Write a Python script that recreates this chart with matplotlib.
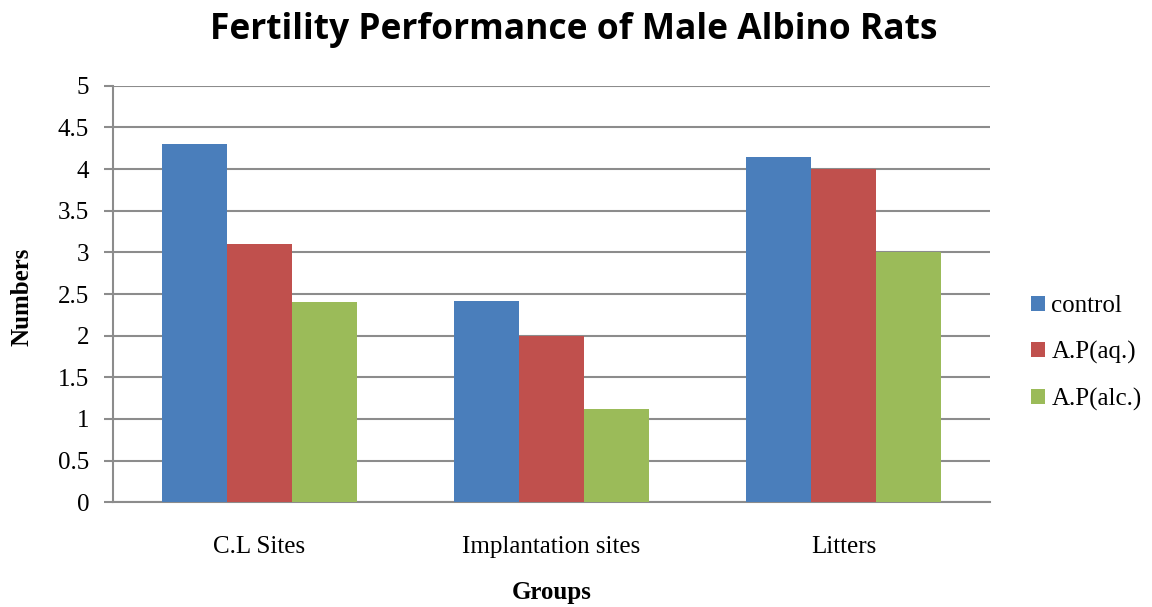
import numpy as np
import matplotlib.pyplot as plt

categories = ['C.L Sites', 'Implantation sites', 'Litters']
series_names = ['control', 'A.P(aq.)', 'A.P(alc.)']
control = [4.3, 2.42, 4.15]
ap_aq = [3.1, 2.0, 4.0]
ap_alc = [2.4, 1.12, 3.0]
colors = ['#4a7ebb', '#c0504d', '#9bbb59']

fig = plt.figure(figsize=(11.52, 6.07), dpi=100)
ax = fig.add_axes([0.0984, 0.1725, 0.7606, 0.6863])

x = np.arange(len(categories))
w = 1 / 4.5
for i, (vals, name) in enumerate(zip([control, ap_aq, ap_alc], series_names)):
    ax.bar(x + (i - 1) * w, vals, w, color=colors[i], label=name, zorder=3)

ax.set_xlim(-0.5, 2.5)
ax.set_ylim(0, 5)
ax.set_yticks(np.arange(0, 5.01, 0.5))
ax.set_yticklabels(['0', '0.5', '1', '1.5', '2', '2.5', '3', '3.5', '4', '4.5', '5'])
ax.set_xticks(x)
ax.set_xticklabels(categories)
ax.grid(axis='y', color='#8c8c8c', linewidth=1.5, zorder=0)
for s in ['top', 'right']:
    ax.spines[s].set_visible(False)
for s in ['left', 'bottom']:
    ax.spines[s].set_color('#8c8c8c')
    ax.spines[s].set_linewidth(1.5)
ax.tick_params(axis='y', length=6.5, width=1.5, color='#8c8c8c', pad=11,
               labelsize=18, labelfontfamily='Liberation Serif')
ax.tick_params(axis='x', length=0, pad=24, labelsize=18, labelfontfamily='Liberation Serif')

ax.set_xlabel('Groups', fontsize=18, fontweight='bold', family='Liberation Serif', labelpad=17)
fig.text(0.019, 0.511, 'Numbers', rotation=90, fontsize=18, fontweight='bold',
         family='Liberation Serif', ha='center', va='center')

fig.text(0.498, 0.951, 'Fertility Performance of Male Albino Rats', fontsize=25.5,
         fontweight='bold', family='Open Sans', ha='center', va='center')

ax.legend(loc='center left', bbox_to_anchor=(1.022, 0.358), frameon=False,
          prop={'family': 'Liberation Serif', 'size': 18},
          handlelength=0.55, handleheight=0.55, handletextpad=0.25, labelspacing=0.95)

fig.savefig('out.png', dpi=100)
